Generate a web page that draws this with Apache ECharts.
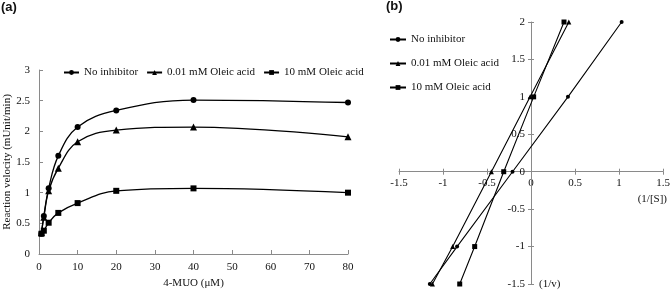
<!DOCTYPE html>
<html>
<head>
<meta charset="utf-8">
<script src="https://cdn.jsdelivr.net/npm/echarts@6/dist/echarts.min.js"></script>
<style>
  html, body { margin: 0; padding: 0; background: #fff; }
  #chart { width: 672px; height: 290px; }
</style>
</head>
<body>
<div id="chart"></div>
<script>
// (a) substrate concentration vs velocity
var seriesNames = ["No inhibitor", "0.01 mM Oleic acid", "10 mM Oleic acid"];
var symbols = ["circle", "triangle", "rect"];
var muo = [0.625, 1.25, 2.5, 5, 10, 20, 40, 80];
var vNoInhibitor = [0.33, 0.62, 1.07, 1.6, 2.07, 2.34, 2.51, 2.47];
var vOleic001 = [0.35, 0.6, 1.03, 1.4, 1.83, 2.02, 2.07, 1.91];
var vOleic10 = [0.33, 0.38, 0.51, 0.67, 0.83, 1.03, 1.07, 1.0];

// (b) double reciprocal plot
var invV = [-1.5, -1, 0, 1, 2];
var invSNoInhibitor = [-1.15, -0.84, -0.21, 0.42, 1.03];
var invSOleic001 = [-1.12, -0.89, -0.45, -0.01, 0.43];
var invSOleic10 = [-0.81, -0.64, -0.31, 0.03, 0.375];

var serifFont = "Liberation Serif";
var axisGrey = "#8a8a8a";

function pairs(xs, ys) {
	return xs.map(function (x, i) { return [x, ys[i]]; });
}

var leftSets = [vNoInhibitor, vOleic001, vOleic10];
var rightSets = [invSNoInhibitor, invSOleic001, invSOleic10];

var series = [];
// 左图
leftSets.forEach(function (ys, i) {
	series.push({
		name: seriesNames[i],
		type: "line",
		xAxisIndex: 0,
		yAxisIndex: 0,
		smooth: 0.4,
		symbol: symbols[i],
		symbolSize: i === 1 ? 7 : 6,
		data: pairs(muo, ys),
		lineStyle: { color: "#000", width: 1.3 },
		itemStyle: { color: "#000" },
	});
});
// 右图
rightSets.forEach(function (xs, i) {
	var s = {
		name: seriesNames[i],
		type: "line",
		xAxisIndex: 1,
		yAxisIndex: 1,
		symbol: symbols[i],
		symbolSize: i === 0 ? 4 : 5,
		data: pairs(xs, invV),
		lineStyle: { color: "#000", width: 1.1 },
		itemStyle: { color: "#000" },
	};
	if (i === 0) {
		// 纵轴线（x = 0）
		s.markLine = {
			silent: true,
			symbol: "none",
			label: { show: false },
			lineStyle: { color: axisGrey, width: 1, type: "solid" },
			data: [{ xAxis: 0 }],
			z: 1,
		};
	}
	series.push(s);
});

var labelStyle = { color: "#111", fontFamily: serifFont, fontSize: 11 };
var titleStyle = { fontFamily: "Liberation Sans", fontSize: 13, fontWeight: "bold", color: "#111" };

// 右图的内侧刻度（做成十字刻度）
var innerTickX = {
	gridIndex: 1, type: "value", min: -1.5, max: 1.5, interval: 0.5, position: "bottom",
	axisLine: { show: false, onZero: false },
	axisTick: { show: true, inside: true, length: 3, lineStyle: { color: axisGrey } },
	axisLabel: { show: false },
	splitLine: { show: false },
};
var innerTickY = {
	gridIndex: 1, type: "value", min: -1.5, max: 2, interval: 0.5, position: "left",
	axisLine: { show: false, onZero: false },
	axisTick: { show: true, inside: true, length: 3, lineStyle: { color: axisGrey } },
	axisLabel: { show: false },
	splitLine: { show: false },
};

var option = {
	animation: false,
	textStyle: { fontFamily: serifFont },
	title: [
		{ text: "(a)", left: 1, top: 1, padding: 0, textStyle: titleStyle },
		{ text: "(b)", left: 386, top: 0, padding: 0, textStyle: titleStyle },
	],
	legend: [
		{
			data: seriesNames,
			left: 63,
			top: 67,
			padding: 0,
			itemWidth: 15,
			itemHeight: 6,
			itemGap: 8,
			textStyle: labelStyle,
		},
		{
			data: seriesNames,
			orient: "vertical",
			left: 389,
			top: 34,
			padding: 0,
			itemWidth: 16,
			itemHeight: 6,
			itemGap: 13,
			textStyle: labelStyle,
		},
	],
	grid: [
		{ left: 39, right: 324, top: 70, bottom: 36, outerBoundsMode: "none" },
		{ left: 399, right: 9, top: 22, bottom: 6, outerBoundsMode: "none" },
	],
	xAxis: [
		{
			gridIndex: 0,
			type: "value",
			min: 0,
			max: 80,
			interval: 10,
			name: "4-MUO (μM)",
			nameLocation: "middle",
			nameGap: 24,
			nameTextStyle: labelStyle,
			axisLine: { lineStyle: { color: axisGrey } },
			axisTick: { inside: true, length: 4, lineStyle: { color: axisGrey } },
			axisLabel: Object.assign({ margin: 8 }, labelStyle),
			splitLine: { show: false },
		},
		{
			gridIndex: 1,
			type: "value",
			min: -1.5,
			max: 1.5,
			interval: 0.5,
			position: "bottom",
			name: "(1/[S])",
			nameLocation: "end",
			nameGap: 4,
			nameMoveOverlap: false,
			nameTextStyle: Object.assign({ align: "right", verticalAlign: "top", padding: [22, 0, 0, 0] }, labelStyle),
			axisLine: { onZero: false, lineStyle: { color: axisGrey } },
			axisTick: { length: 3, lineStyle: { color: axisGrey } },
			axisLabel: Object.assign({ margin: 6 }, labelStyle),
			splitLine: { show: false },
		},
		innerTickX,
	],
	yAxis: [
		{
			gridIndex: 0,
			type: "value",
			min: 0,
			max: 3,
			interval: 0.5,
			name: "Reaction velocity (mUnit/min)",
			nameLocation: "middle",
			nameGap: 25,
			nameTextStyle: labelStyle,
			axisLine: { show: true, lineStyle: { color: axisGrey } },
			axisTick: { show: true, inside: true, length: 4, lineStyle: { color: axisGrey } },
			axisLabel: Object.assign({ margin: 9 }, labelStyle),
			splitLine: { show: false },
		},
		{
			gridIndex: 1,
			type: "value",
			min: -1.5,
			max: 2,
			interval: 0.5,
			position: "left",
			name: "(1/v)",
			nameLocation: "start",
			nameGap: 0,
			nameMoveOverlap: false,
			nameTextStyle: Object.assign({ align: "left", verticalAlign: "middle", padding: [0, 0, 0, 8] }, labelStyle),
			axisLine: { show: true, onZero: false, lineStyle: { color: axisGrey } },
			axisTick: { show: true, length: 3, lineStyle: { color: axisGrey } },
			axisLabel: Object.assign({ margin: 6 }, labelStyle),
			splitLine: { show: false },
		},
		innerTickY,
	],
	series: series,
};

var myChart = echarts.init(document.getElementById("chart"));
myChart.setOption(option);

// 右图坐标轴移到原点
var origin = myChart.convertToPixel({ gridIndex: 1 }, [0, 0]);
var rect = myChart.getModel().getComponent("grid", 1).coordinateSystem.getRect();
var xOffset = origin[1] - (rect.y + rect.height);
var yOffset = rect.x - origin[0];
myChart.setOption({
	xAxis: [{}, { offset: xOffset }, { offset: xOffset }],
	yAxis: [{}, { offset: yOffset }, { offset: yOffset }],
});
</script>
</body>
</html>
